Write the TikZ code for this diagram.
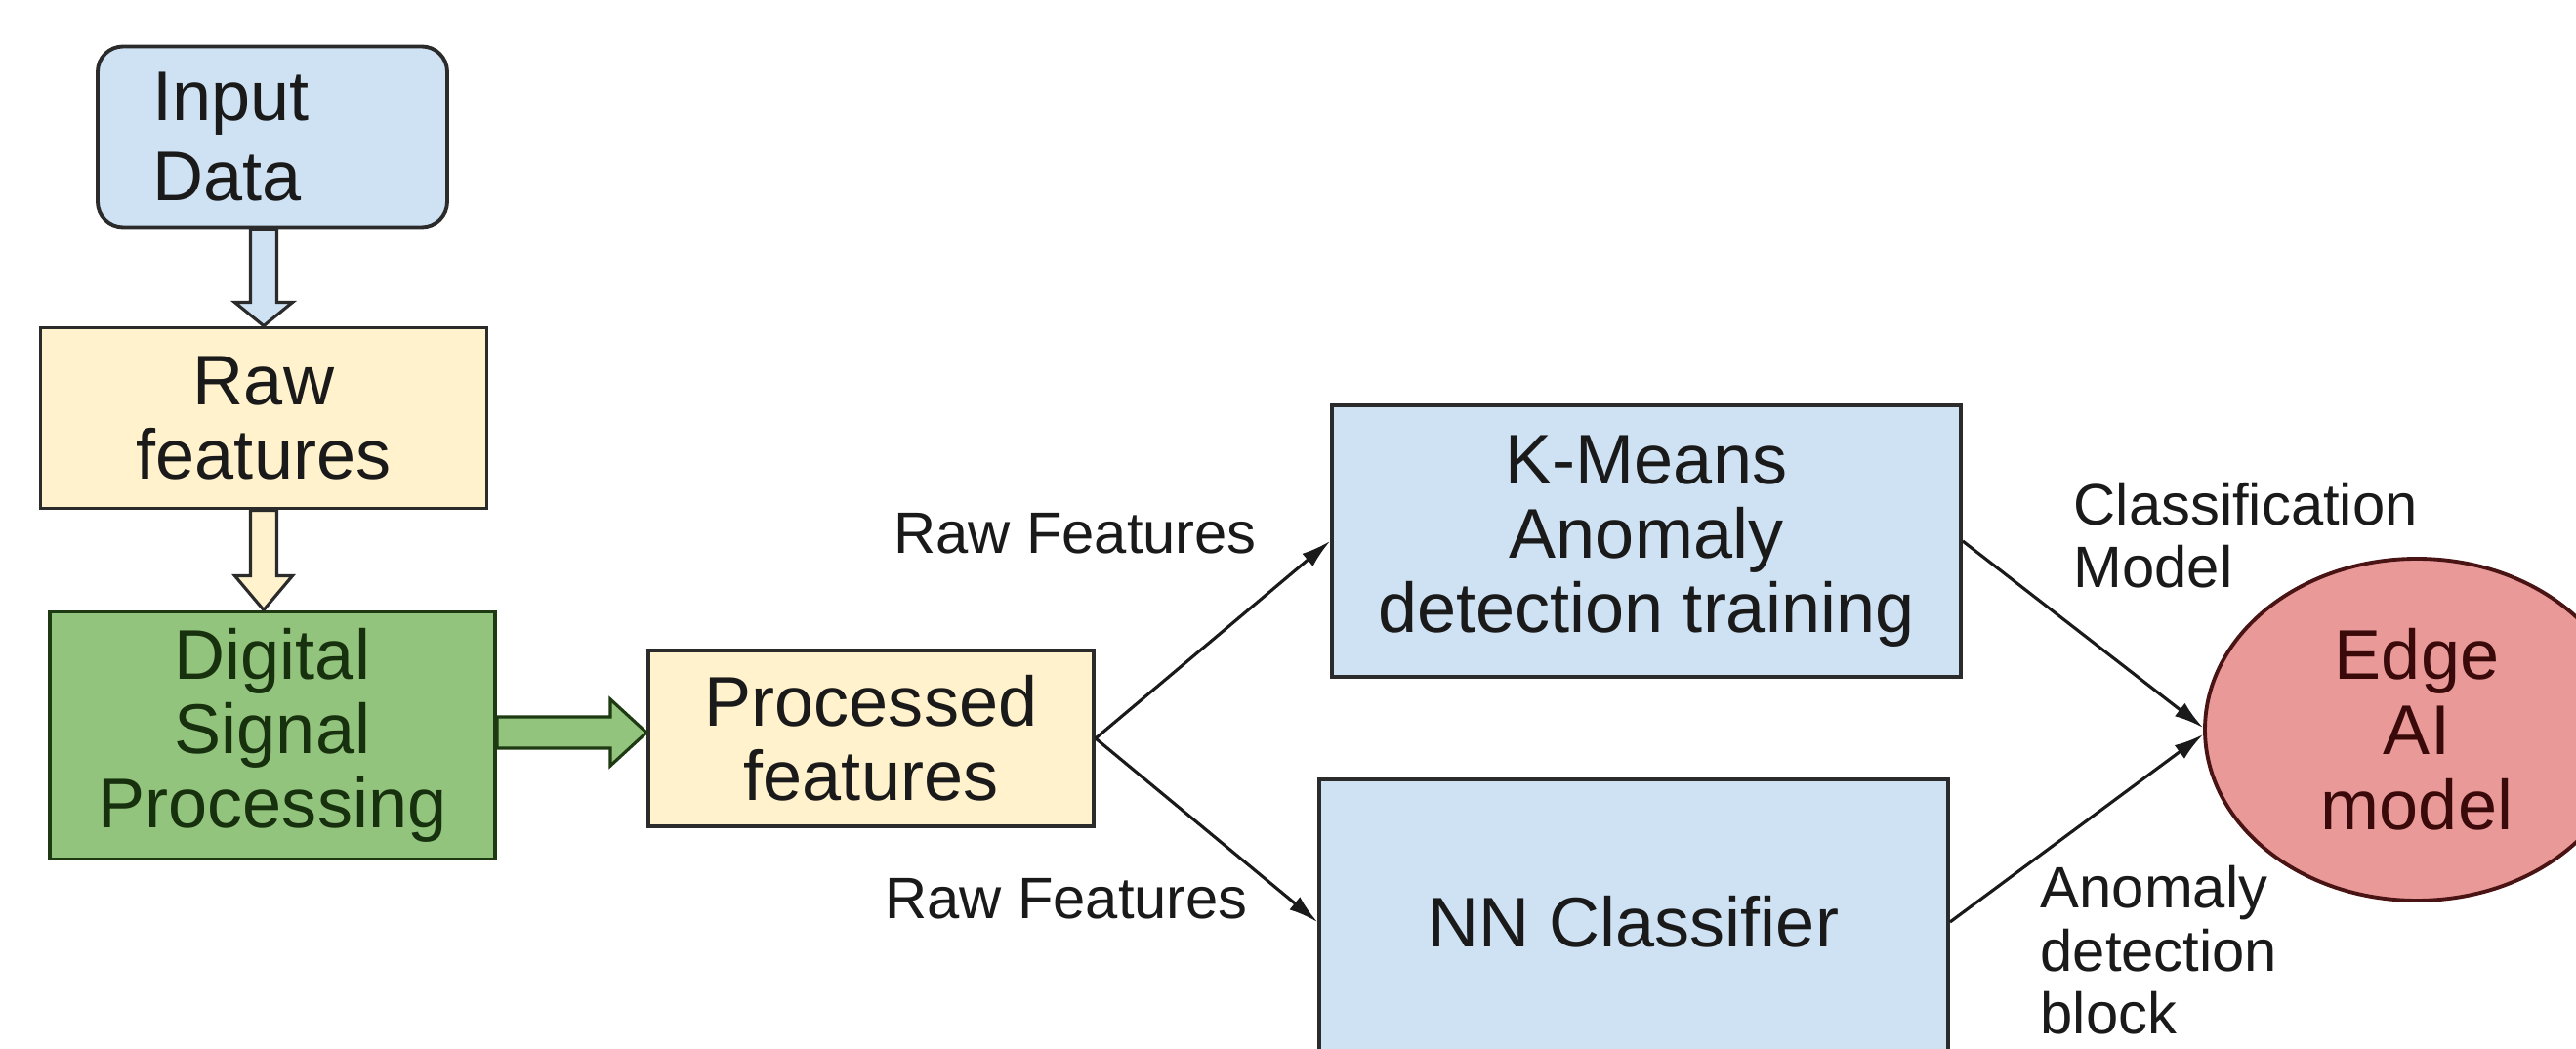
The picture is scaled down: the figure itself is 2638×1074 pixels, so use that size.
\documentclass[tikz,border=0pt]{standalone}
\usepackage{fontspec}
\setmainfont{Liberation Sans}
\usetikzlibrary{arrows.meta,shapes.geometric,calc}
\definecolor{inblue}{HTML}{CFE2F3}
\definecolor{featyellow}{HTML}{FFF2CC}
\definecolor{dspgreen}{HTML}{93C47D}
\definecolor{edgered}{HTML}{EA9999}
\definecolor{boxline}{HTML}{2B2B2B}
\definecolor{dspline}{HTML}{1E3A12}
\definecolor{dsptext}{HTML}{17300E}
\definecolor{edgeline}{HTML}{4A1414}
\definecolor{edgetext}{HTML}{3A0A0A}
\definecolor{inktext}{HTML}{1A1A1A}
\newcommand\boxfont{\fontsize{20.5}{21.6}\selectfont}
\newcommand\annotfont{\fontsize{17}{18.4}\selectfont}

\begin{document}
\begin{tikzpicture}[x=0.1mm,y=-0.1mm,
  every node/.style={text=inktext},
  box/.style={draw=boxline,line width=1.1pt,rectangle,inner sep=0pt,align=center,font=\boxfont},
  annot/.style={inner sep=0pt,align=left,font=\annotfont},
  flow/.style={-{Latex[length=3mm,width=1.7mm]},line width=0.9pt,draw=inktext},
  blockarrow/.style={draw=boxline,line width=0.9pt,line join=miter}]
\useasboundingbox (0,0) rectangle (2638,1074);
\fill[white] (0,0) rectangle (2638,1074);
% boxes
\node[box,fill=inblue,rounded corners=2.6mm,minimum width=35.8mm,minimum height=18.5mm,
      text width=24.6mm,inner xsep=5.6mm,align=left,font=\fontsize{20.5}{23.3}\selectfont]
                    (inp)    at (279,140)  {Input\\Data};
\node[box,fill=featyellow,minimum width=45.7mm,minimum height=18.5mm]
                    (raw)    at (270,428)  {Raw\\features};
\node[box,fill=dspgreen,draw=dspline,text=dsptext,minimum width=45.6mm,minimum height=25.3mm]
                    (dsp)    at (279,753)  {Digital\\Signal\\Processing};
\node[box,fill=featyellow,minimum width=45.6mm,minimum height=18mm]
                    (proc)   at (892,756)  {Processed\\features};
\node[box,fill=inblue,minimum width=64.4mm,minimum height=27.8mm]
                    (kmeans) at (1686,554) {K-Means\\Anomaly\\detection training};
\node[box,fill=inblue,minimum width=64.4mm,minimum height=29.2mm]
                    (nn)     at (1673,944) {NN Classifier};
\node[ellipse,draw=edgeline,line width=1.1pt,fill=edgered,text=edgetext,inner sep=0pt,
      minimum width=43.4mm,minimum height=35mm,align=center,font=\fontsize{20.5}{21.9}\selectfont]
                    (edgeai) at (2475,747) {Edge\\AI\\model};
% labels (base = last line)
\node[annot,anchor=base]      (rawup)     at (1101,567)  {Raw Features};
\node[annot,anchor=base]      (rawdown)   at (1092,941)  {Raw Features};
\node[annot,anchor=base west] (clsmodel)  at (2123,602)  {Classification\\Model};
\node[annot,anchor=base west] (anomblock) at (2089,1059) {Anomaly\\detection\\block};
% block arrows
\draw[blockarrow,fill=inblue] (raw.north) -- ++(-29.5,-24) -- ++(16,0)
  -- ([xshift=-1.35mm]raw.north |- inp.south) -- ([xshift=1.35mm]raw.north |- inp.south)
  -- ([xshift=1.35mm,yshift=2.4mm]raw.north) -- ++(16,0) -- cycle;
\draw[blockarrow,fill=featyellow] (raw.south |- dsp.north) -- ++(-29.5,-35) -- ++(16,0)
  -- ([xshift=-1.35mm]raw.south) -- ([xshift=1.35mm]raw.south)
  -- ([xshift=1.35mm,yshift=3.5mm]raw.south |- dsp.north) -- ++(16,0) -- cycle;
\draw[blockarrow,draw=dspline,fill=dspgreen] ([yshift=0.6mm]proc.west) -- ++(-37,-34) -- ++(0,18)
  -- ([yshift=1.9mm]dsp.east) -- ([yshift=-1.3mm]dsp.east)
  -- ([xshift=-3.7mm,yshift=-1mm]proc.west) -- ++(0,18) -- cycle;
% thin arrows
\draw[flow] (proc.east)   -- (kmeans.west);
\draw[flow] (proc.east)   -- (nn.west);
\draw[flow] (kmeans.east) -- ([yshift=0.2mm]edgeai.west);
\draw[flow] (nn.east)     -- ([yshift=-0.5mm]edgeai.west);
\end{tikzpicture}
\end{document}
